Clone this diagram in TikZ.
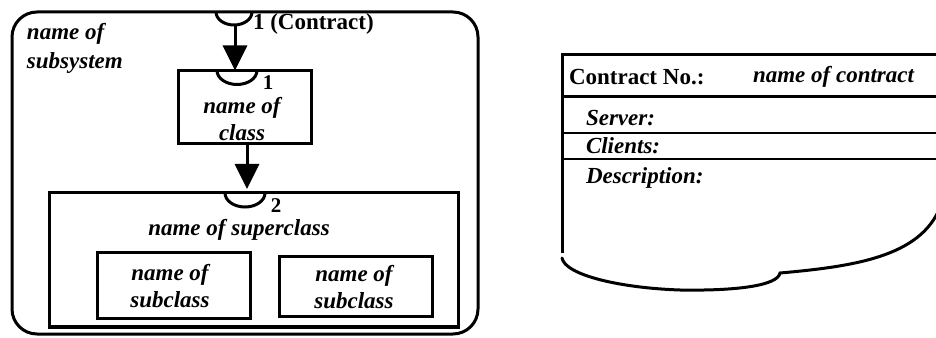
\documentclass[tikz,border=0pt]{standalone}
\usepackage{fontspec}
\setmainfont{Liberation Serif}
\usetikzlibrary{arrows.meta}
\begin{document}
\begin{tikzpicture}[x=1pt,y=1pt,
  every node/.style={inner sep=0pt,outer sep=0pt,font=\fontsize{23}{28}\selectfont\bfseries},
  box/.style={draw,line width=3pt,minimum width=#1},
  lbl/.style={font=\fontsize{23}{27}\selectfont\bfseries\itshape,align=center},
  lbll/.style={font=\fontsize{23}{29}\selectfont\bfseries\itshape,align=left},
  num/.style={font=\fontsize{21}{24}\selectfont\bfseries},
  semi/.style={line width=3pt},
  arr/.style={line width=3pt,-{Triangle[length=25pt,width=24pt]}},
  cardline/.style={line width=3pt},
  rowline/.style={line width=2.5pt}]
\useasboundingbox (0,0) rectangle (936,337);
% subsystem
\node[box=466pt,minimum height=322pt,rounded corners=25pt] (sys) at (245,164) {};
\node[lbll,anchor=west] (systxt) at (27,289) {name of\\subsystem};
% contract socket on subsystem
\draw[semi] (216,325) arc[start angle=180,end angle=360,x radius=18,y radius=13];
\coordinate (s0b) at (235,312);
\node[anchor=west] (c1) at (253,313) {1 (Contract)};
% class
\node[box=133pt,minimum height=73pt] (cls) at (244.5,230) {};
\node[lbl] (clstxt) at (242,218) {name of\\class};
\draw[semi] (217,266.5) arc[start angle=180,end angle=360,x radius=20,y radius=14];
\node[num] (n1) at (268,254) {1};
\coordinate (clsin) at (235,266.5);
\draw[arr] (s0b) -- (clsin);
% superclass
\node[box=409pt,minimum height=134pt] (sup) at (253.5,77) {};
\draw[semi] (225,144) arc[start angle=180,end angle=360,x radius=20,y radius=14];
\node[num] (n2) at (276,131) {2};
\node[lbl] (suptxt) at (239,107) {name of superclass};
\coordinate (clsout) at (247,193.5);
\coordinate (supin) at (247,148);
\draw[arr] (clsout) -- (supin);
% subclasses
\node[box=153pt,minimum height=66pt] (subl) at (173.5,51) {};
\node[lbl] (subltxt) at (170,51) {name of\\subclass};
\node[box=153pt,minimum height=60pt] (subr) at (355.5,50) {};
\node[lbl] (subrtxt) at (354,50) {name of\\subclass};
% contract card
\coordinate (ctl) at (562,282);
\coordinate (ctr) at (940,282);
\coordinate (cbl) at (562,84);
\draw[cardline] (ctr) -- (ctl) -- (cbl);
\draw[cardline] (562,240) -- (940,240);
\draw[rowline] (562,204) -- (940,204);
\draw[rowline] (562,178) -- (940,178);
\draw[cardline,line cap=round] (562,79) .. controls (565,62) and (620,49) .. (680,47)
   .. controls (740,46) and (778,52) .. (780,64)
   .. controls (860,71) and (925,82) .. (942,135);
\node[anchor=west] (cno) at (569,260) {Contract No.:};
\node[anchor=west,font=\fontsize{23}{28}\selectfont\bfseries\itshape] (cname) at (753,260) {name of contract};
\node[anchor=west,font=\fontsize{23}{28}\selectfont\bfseries\itshape] (srv) at (586,219) {Server:};
\node[anchor=west,font=\fontsize{23}{28}\selectfont\bfseries\itshape] (cli) at (586,191) {Clients:};
\node[anchor=west,font=\fontsize{23}{28}\selectfont\bfseries\itshape] (desc) at (586,159) {Description:};
\end{tikzpicture}
\end{document}
